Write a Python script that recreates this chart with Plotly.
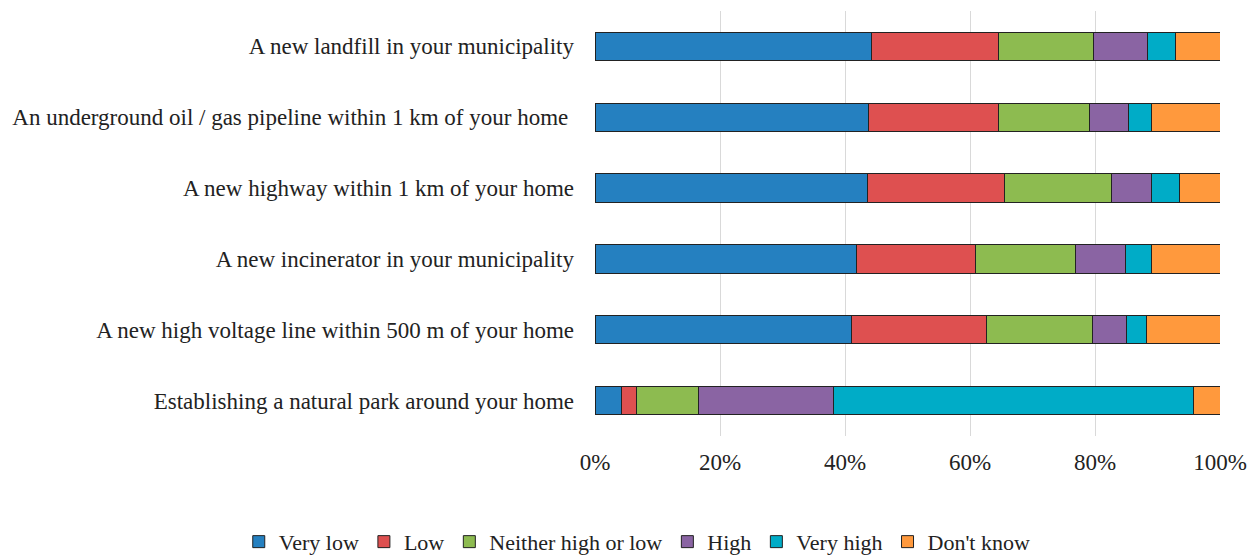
import plotly.graph_objects as go

categories = [
    "A new landfill in your municipality",
    "An underground oil / gas pipeline within 1 km of your home ",
    "A new highway within 1 km of your home",
    "A new incinerator in your municipality",
    "A new high voltage line within 500 m of your home",
    "Establishing a natural park around your home",
]

very_low = [44.2, 43.8, 43.6, 41.8, 41.0, 4.2]
low = [20.3, 20.7, 21.9, 19.0, 21.6, 2.5]
neither = [15.3, 14.6, 17.1, 16.1, 17.0, 9.8]
high = [8.6, 6.3, 6.4, 7.9, 5.4, 21.7]
very_high = [4.5, 3.6, 4.5, 4.2, 3.2, 57.5]
dont_know = [7.1, 11.0, 6.5, 11.0, 11.8, 4.3]

series = [
    ("Very low", very_low, "#2580C0"),
    ("Low", low, "#DE5050"),
    ("Neither high or low", neither, "#8DBB50"),
    ("High", high, "#8A64A3"),
    ("Very high", very_high, "#00ACC7"),
    ("Don't know", dont_know, "#FF993D"),
]

font_family = "Liberation Serif, Times New Roman, serif"

fig = go.Figure()
for name, vals, color in series:
    fig.add_trace(go.Bar(
        y=categories,
        x=[v / 100 for v in vals],
        name=name,
        orientation="h",
        marker=dict(color=color, line=dict(color="#222222", width=1)),
    ))

fig.update_layout(
    barmode="stack",
    bargap=0.6,
    width=1255,
    height=558,
    margin=dict(l=595, r=35, t=11, b=122, autoexpand=False),
    plot_bgcolor="white",
    paper_bgcolor="white",
    font=dict(family=font_family, size=23, color="#222222"),
    xaxis=dict(
        range=[0, 1],
        tickformat=".0%",
        dtick=0.2,
        showgrid=True,
        gridcolor="#d9d9d9",
        gridwidth=1,
        zeroline=False,
        showline=False,
        ticks="",
        ticklabelstandoff=10,
        automargin=False,
    ),
    yaxis=dict(
        autorange="reversed",
        showgrid=False,
        showline=False,
        ticks="",
        ticklabelstandoff=20,
        automargin=False,
    ),
    legend=dict(
        orientation="h",
        x=-0.57,
        xanchor="left",
        y=-0.249,
        yanchor="middle",
        traceorder="normal",
        font=dict(size=22),
    ),
)

fig.write_html("out.html")
